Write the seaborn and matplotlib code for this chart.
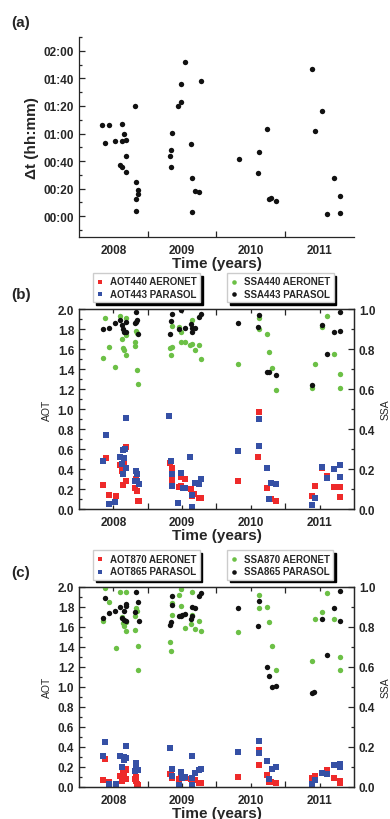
import matplotlib
matplotlib.use("Agg")
import matplotlib.pyplot as plt
import seaborn as sns
from matplotlib.ticker import MultipleLocator

# ---- panel (a): time difference (minutes) ----
a_year = [2008.34, 2008.38, 2008.43, 2008.53, 2008.59, 2008.62, 2008.62, 2008.63, 2008.65,
          2008.68, 2008.69, 2008.69, 2008.81, 2008.83, 2008.83, 2008.83, 2008.86, 2008.86,
          2009.32, 2009.34, 2009.34, 2009.35, 2009.44, 2009.49, 2009.49, 2009.54, 2009.63,
          2009.64, 2009.65, 2009.69, 2009.75, 2009.77,
          2010.33, 2010.62, 2010.61, 2010.73, 2010.77, 2010.80, 2010.87,
          2011.39, 2011.43, 2011.54, 2011.61, 2011.71, 2011.79, 2011.80]
a_dt = [66, 53, 66.5, 54.7, 37.2, 54.7, 67, 35.8, 59.5, 31.9, 55.4, 43.9, 79.7, 25, 12.7, 4.1, 19, 15.8,
        43.7, 48.2, 36, 60.2, 79.7, 83, 95.8, 111.8, 52.1, 27.4, 2.9, 18.5, 17.5, 98.4,
        41.8, 46.3, 31.7, 63.4, 12.5, 13.2, 10.8,
        106.6, 61.7, 76.1, 1.7, 27.4, 2.6, 14.6]
a_ticks = [0, 20, 40, 60, 80, 100, 120]
a_tick_labels = ['00:00', '00:20', '00:40', '01:00', '01:20', '01:40', '02:00']

# ---- panel (b): 440/443 nm ----
b_aot_aer_year = [2008.35, 2008.39, 2008.44, 2008.54, 2008.60, 2008.66, 2008.63, 2008.64, 2008.68, 2008.69,
                  2008.83, 2008.82, 2008.84, 2008.86, 2008.87,
                  2009.32, 2009.35, 2009.35, 2009.45, 2009.48, 2009.49, 2009.54, 2009.63, 2009.64, 2009.68,
                  2009.74, 2009.77,
                  2010.32, 2010.62, 2010.61, 2010.73, 2010.80, 2010.87,
                  2011.39, 2011.44, 2011.54, 2011.61, 2011.71, 2011.79, 2011.79]
b_aot_aer = [0.237, 0.507, 0.137, 0.13, 0.44, 0.473, 0.383, 0.237, 0.623, 0.283,
             0.297, 0.21, 0.18, 0.08, 0.08,
             0.463, 0.413, 0.293, 0.217, 0.23, 0.32, 0.30, 0.20, 0.127, 0.15, 0.113, 0.11,
             0.28, 0.967, 0.517, 0.21, 0.097, 0.077,
             0.133, 0.23, 0.407, 0.327, 0.223, 0.217, 0.123]
b_aot_par_year = [2008.69, 2008.39, 2008.35, 2008.64, 2008.67, 2008.60, 2008.65, 2008.63, 2008.69, 2008.64,
                  2008.83, 2008.84, 2008.82, 2008.85, 2008.87, 2008.53, 2008.44,
                  2009.31, 2009.34, 2009.35, 2009.35, 2009.44, 2009.48, 2009.52, 2009.54, 2009.62,
                  2009.65, 2009.64, 2009.69, 2009.74, 2009.77,
                  2010.32, 2010.62, 2010.62, 2010.73, 2010.77, 2010.80, 2010.87,
                  2011.39, 2011.44, 2011.54, 2011.61, 2011.71, 2011.79, 2011.79]
b_aot_par = [0.91, 0.737, 0.477, 0.593, 0.597, 0.523, 0.513, 0.447, 0.407, 0.347,
             0.38, 0.347, 0.283, 0.283, 0.253, 0.073, 0.047,
             0.933, 0.48, 0.347, 0.233, 0.06, 0.36, 0.21, 0.21, 0.517, 0.137, 0.02, 0.263, 0.247, 0.30,
             0.583, 0.897, 0.627, 0.41, 0.1, 0.263, 0.25,
             0.037, 0.11, 0.423, 0.313, 0.40, 0.443, 0.32]
b_ssa_aer_year = [2008.38, 2008.43, 2008.35, 2008.53, 2008.60, 2008.62, 2008.64, 2008.65, 2008.68, 2008.69,
                  2008.69, 2008.81, 2008.82, 2008.83, 2008.84, 2008.85, 2008.86,
                  2009.33, 2009.35, 2009.34, 2009.35, 2009.45, 2009.49, 2009.49, 2009.54, 2009.64,
                  2009.62, 2009.65, 2009.69, 2009.75, 2009.77,
                  2010.31, 2010.62, 2010.62, 2010.73, 2010.77, 2010.81, 2010.87,
                  2011.39, 2011.44, 2011.54, 2011.61, 2011.71, 2011.79, 2011.79]
b_ssa_aer = [0.955, 0.808, 0.755, 0.71, 0.963, 0.852, 0.807, 0.797, 0.768, 0.953, 0.87, 0.813, 0.837,
             0.89, 0.88, 0.697, 0.625,
             0.805, 0.81, 0.768, 0.917, 0.908, 0.883, 0.837, 0.833, 0.947, 0.818, 0.825, 0.795, 0.818, 0.752,
             0.725, 0.957, 0.9, 0.875, 0.783, 0.705, 0.595,
             0.607, 0.725, 0.908, 0.967, 0.775, 0.675, 0.607]
b_ssa_par_year = [2008.35, 2008.43, 2008.53, 2008.59, 2008.62, 2008.64, 2008.65, 2008.68, 2008.69, 2008.81,
                  2008.83, 2008.83, 2008.85, 2008.86,
                  2009.33, 2009.34, 2009.35, 2009.45, 2009.49, 2009.54, 2009.63, 2009.64, 2009.65, 2009.69,
                  2009.75, 2009.77,
                  2010.32, 2010.62, 2010.61, 2010.73, 2010.77, 2010.87,
                  2011.39, 2011.54, 2011.61, 2011.71, 2011.79, 2011.79]
b_ssa_par = [0.9, 0.905, 0.928, 0.945, 0.92, 0.9, 0.883, 0.937, 0.883, 0.928, 0.983, 0.933, 0.945, 0.873,
             0.873, 0.94, 0.975, 0.9, 0.993, 0.905, 0.925, 0.883, 0.907, 0.905, 0.96, 0.973,
             0.928, 0.968, 0.912, 0.685, 0.685, 0.67,
             0.62, 0.92, 0.777, 0.887, 0.89, 0.987]

# ---- panel (c): 870/865 nm ----
c_aot_aer_year = [2008.35, 2008.38, 2008.43, 2008.60, 2008.62, 2008.64, 2008.65, 2008.68, 2008.69, 2008.69,
                  2008.81, 2008.83, 2008.83, 2008.85, 2008.86,
                  2009.33, 2009.34, 2009.35, 2009.45, 2009.49, 2009.50, 2009.54, 2009.63, 2009.65, 2009.69,
                  2009.75, 2009.77,
                  2010.32, 2010.62, 2010.62, 2010.73, 2010.77, 2010.80, 2010.87,
                  2011.39, 2011.44, 2011.61, 2011.71, 2011.79, 2011.79]
c_aot_aer = [0.07, 0.277, 0.043, 0.107, 0.053, 0.133, 0.117, 0.077, 0.17, 0.18, 0.077, 0.1, 0.06, 0.023, 0.02,
             0.13, 0.13, 0.09, 0.077, 0.12, 0.083, 0.09, 0.073, 0.05, 0.063, 0.04, 0.033,
             0.097, 0.37, 0.217, 0.117, 0.05, 0.043, 0.037,
             0.083, 0.11, 0.17, 0.09, 0.033, 0.06]
c_aot_par_year = [2008.35, 2008.38, 2008.43, 2008.54, 2008.60, 2008.62, 2008.65, 2008.65, 2008.69, 2008.69,
                  2008.81, 2008.83, 2008.83, 2008.86,
                  2009.33, 2009.35, 2009.35, 2009.45, 2009.49, 2009.50, 2009.54, 2009.64, 2009.65, 2009.65,
                  2009.69, 2009.75, 2009.77,
                  2010.32, 2010.62, 2010.62, 2010.73, 2010.77, 2010.81, 2010.87,
                  2011.39, 2011.44, 2011.54, 2011.61, 2011.71, 2011.79, 2011.79]
c_aot_par = [0.31, 0.45, 0.03, 0.027, 0.307, 0.193, 0.293, 0.267, 0.403, 0.283, 0.16, 0.24, 0.217, 0.167,
             0.387, 0.177, 0.11, 0.02, 0.15, 0.09, 0.1, 0.303, 0.017, 0.09, 0.133, 0.17, 0.177,
             0.35, 0.457, 0.333, 0.26, 0.077, 0.18, 0.193,
             0.023, 0.067, 0.137, 0.123, 0.217, 0.227, 0.193]
c_ssa_aer_year = [2008.38, 2008.43, 2008.35, 2008.54, 2008.60, 2008.62, 2008.64, 2008.65, 2008.68, 2008.69,
                  2008.69, 2008.81, 2008.82, 2008.83, 2008.84, 2008.86, 2008.86,
                  2009.33, 2009.34, 2009.35, 2009.35, 2009.45, 2009.49, 2009.49, 2009.54, 2009.64,
                  2009.63, 2009.65, 2009.69, 2009.75, 2009.77,
                  2010.32, 2010.62, 2010.62, 2010.73, 2010.77, 2010.81, 2010.87,
                  2011.39, 2011.44, 2011.54, 2011.61, 2011.71, 2011.79, 2011.79]
c_ssa_aer = [0.992, 0.925, 0.827, 0.692, 0.973, 0.848, 0.82, 0.805, 0.777, 0.973, 0.825, 0.785, 0.852,
             0.892, 0.88, 0.705, 0.583,
             0.723, 0.677, 0.858, 0.917, 0.957, 0.99, 0.905, 0.793, 0.973, 0.812, 0.86, 0.79, 0.827, 0.777,
             0.772, 0.96, 0.893, 0.897, 0.825, 0.703, 0.582,
             0.627, 0.84, 0.872, 0.967, 0.837, 0.648, 0.583]
c_ssa_par_year = [2008.35, 2008.38, 2008.43, 2008.53, 2008.59, 2008.62, 2008.65, 2008.65, 2008.68, 2008.69,
                  2008.69, 2008.81, 2008.83, 2008.86, 2008.87,
                  2009.33, 2009.34, 2009.35, 2009.35, 2009.45, 2009.49, 2009.50, 2009.54, 2009.63,
                  2009.65, 2009.65, 2009.69, 2009.75, 2009.77,
                  2010.32, 2010.62, 2010.61, 2010.74, 2010.77, 2010.81, 2010.87,
                  2011.39, 2011.42, 2011.54, 2011.61, 2011.71, 2011.79, 2011.79]
c_ssa_par = [0.843, 0.943, 0.868, 0.877, 0.898, 0.843, 0.877, 0.835, 0.913, 0.905, 0.827, 0.873, 0.973,
             0.923, 0.828,
             0.807, 0.822, 0.955, 0.908, 0.855, 0.852, 0.857, 0.862, 0.838, 0.853, 0.897, 0.892, 0.955, 0.967,
             0.892, 0.927, 0.805, 0.597, 0.553, 0.497, 0.503,
             0.467, 0.472, 0.84, 0.657, 0.892, 0.98, 0.828]

year_labels = ['2008', '2009', '2010', '2011']
year_centers = [2008.5, 2009.5, 2010.5, 2011.5]
year_bounds = [2009, 2010, 2011]

RED, BLUE, GREEN, BLACK = '#ee2a2a', '#3550a5', '#6cc046', '#111111'
TICK_FS = 8.5

sns.set_style('ticks')
plt.rcParams['font.family'] = ['Liberation Sans', 'DejaVu Sans']
plt.rcParams['font.weight'] = 'bold'
plt.rcParams['axes.linewidth'] = 0.9


def setup_xaxis(ax, top, mid_len):
    ax.set_xlim(2008, 2012)
    ax.set_xticks(year_bounds)
    ax.set_xticklabels([])
    ax.set_xticks(year_centers, minor=True)
    ax.set_xticklabels(year_labels, minor=True)
    ax.tick_params(axis='x', which='major', direction='in', length=4, width=0.9, top=top)
    ax.tick_params(axis='x', which='minor', direction='in', length=mid_len, width=0.9,
                   pad=5, labelsize=TICK_FS, top=top)
    ax.set_xlabel('Time (years)', fontsize=11, fontweight='bold', labelpad=0)


def setup_yaxis(ax, step, minor):
    ax.yaxis.set_major_locator(MultipleLocator(step))
    ax.yaxis.set_minor_locator(MultipleLocator(minor))
    ax.tick_params(axis='y', which='both', direction='in', labelsize=TICK_FS, width=0.9)
    ax.tick_params(axis='y', which='major', length=4)
    ax.tick_params(axis='y', which='minor', length=2.5)


fig = plt.figure(figsize=(3.9, 8.2), dpi=100)

# (a)
ax_a = fig.add_axes([0.2026, 0.7098, 0.705, 0.2439])
sns.scatterplot(x=a_year, y=a_dt, ax=ax_a, color=BLACK, s=15, linewidth=0)
ax_a.set_ylim(-15, 130)
setup_yaxis(ax_a, 20, 10)
ax_a.set_yticks(a_ticks)
ax_a.set_yticklabels(a_tick_labels)
setup_xaxis(ax_a, top=False, mid_len=0)
sns.despine(ax=ax_a)
ax_a.set_ylabel('\u0394t (hh:mm)', fontsize=11, fontweight='bold', labelpad=3)
fig.text(0.03, 0.967, '(a)', fontsize=11, fontweight='bold')


def aot_ssa_panel(bottom, tag, aer_aot, par_aot, aer_ssa, par_ssa, labels):
    ax = fig.add_axes([0.2026, bottom, 0.705, 0.2439])
    sns.scatterplot(x=aer_aot[0], y=aer_aot[1], ax=ax, color=RED, marker='s', s=13, linewidth=0,
                    label=labels[0])
    sns.scatterplot(x=par_aot[0], y=par_aot[1], ax=ax, color=BLUE, marker='s', s=13, linewidth=0,
                    label=labels[1])
    ax.set_ylim(0, 2.0)
    setup_yaxis(ax, 0.2, 0.1)
    ax.tick_params(axis='y', which='both', right=False)
    ax.yaxis.set_major_formatter(plt.FormatStrFormatter('%.1f'))
    ax.set_ylabel('AOT', fontsize=7.5, fontweight='normal', labelpad=4)
    setup_xaxis(ax, top=True, mid_len=3)

    ax2 = ax.twinx()
    sns.scatterplot(x=aer_ssa[0], y=aer_ssa[1], ax=ax2, color=GREEN, s=15, linewidth=0,
                    label=labels[2])
    sns.scatterplot(x=par_ssa[0], y=par_ssa[1], ax=ax2, color=BLACK, s=15, linewidth=0,
                    label=labels[3])
    ax2.set_ylim(0, 1.0)
    setup_yaxis(ax2, 0.2, 0.1)
    ax2.yaxis.set_major_formatter(plt.FormatStrFormatter('%.1f'))
    ax2.set_ylabel('SSA', fontsize=7.5, fontweight='normal', labelpad=4)
    ax2.set_xlim(2008, 2012)

    leg_kw = dict(prop={'weight': 'bold', 'size': 7}, fancybox=False, framealpha=1,
                  edgecolor='#cccccc', handlelength=0.8, handletextpad=0.6, borderpad=0.35,
                  labelspacing=0.25, borderaxespad=0, markerscale=0.85,
                  shadow={'ox': 2, 'oy': -2, 'shade': 1.0, 'alpha': 1})
    h1, l1 = ax.get_legend_handles_labels()
    h2, l2 = ax2.get_legend_handles_labels()
    ax.legend(h1, l1, loc='lower left', bbox_to_anchor=(0.05, 1.035), **leg_kw)
    ax2.legend(h2, l2, loc='lower left', bbox_to_anchor=(0.538, 1.035), **leg_kw)
    fig.text(0.03, bottom + 0.2439 + 0.013, tag, fontsize=11, fontweight='bold')
    return ax


aot_ssa_panel(0.378, '(b)', (b_aot_aer_year, b_aot_aer), (b_aot_par_year, b_aot_par),
              (b_ssa_aer_year, b_ssa_aer), (b_ssa_par_year, b_ssa_par),
              ['AOT440 AERONET', 'AOT443 PARASOL', 'SSA440 AERONET', 'SSA443 PARASOL'])
aot_ssa_panel(0.0394, '(c)', (c_aot_aer_year, c_aot_aer), (c_aot_par_year, c_aot_par),
              (c_ssa_aer_year, c_ssa_aer), (c_ssa_par_year, c_ssa_par),
              ['AOT870 AERONET', 'AOT865 PARASOL', 'SSA870 AERONET', 'SSA865 PARASOL'])

fig.savefig('out.png', dpi=100)
